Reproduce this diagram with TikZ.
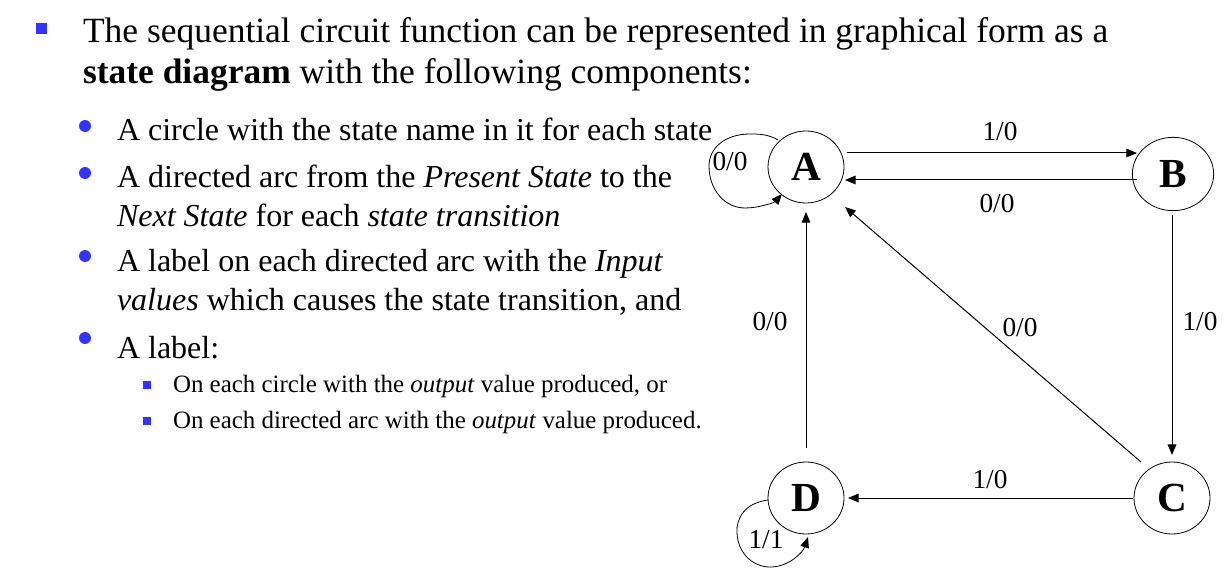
\documentclass[tikz,border=0pt]{standalone}
\usepackage{fontspec}
\setmainfont{Liberation Serif}
\usetikzlibrary{arrows.meta,calc,shapes.geometric}
\definecolor{bulblue}{HTML}{3333FF}
\begin{document}
\begin{tikzpicture}[x=0.75pt,y=-0.75pt,
  txt/.style={anchor=base west,inner sep=0pt,outer sep=0pt},
  lvlone/.style={txt,font=\fontsize{26.6pt}{30pt}\selectfont},
  lvltwo/.style={txt,font=\fontsize{24pt}{28pt}\selectfont},
  lvlthree/.style={txt,font=\fontsize{18.7pt}{22pt}\selectfont},
  sqbul/.style={fill=bulblue,draw=none,inner sep=0pt,minimum size=#1,rectangle},
  rdbul/.style={fill=bulblue,draw=none,inner sep=0pt,minimum size=9pt,circle},
  statenode/.style={draw,ellipse,line width=0.6pt,inner sep=0pt,minimum width=57pt,minimum height=54pt,font=\fontsize{31pt}{34pt}\selectfont\bfseries},
  lbl/.style={inner sep=0pt,font=\fontsize{20.5pt}{24pt}\selectfont},
  arr/.style={line width=0.75pt,-{Triangle[length=8pt,width=6.5pt]}},
]
\useasboundingbox (0,0) rectangle (1224,574);
% bullets
\node[sqbul=8.3pt] (b0) at (41.5,28.5) {};
\node[rdbul] (b1) at (85,126) {};
\node[rdbul] (b2) at (85,173) {};
\node[rdbul] (b3) at (85,256) {};
\node[rdbul] (b4) at (85,338) {};
\node[sqbul=5.6pt] (b5) at (147,385) {};
\node[sqbul=5.6pt] (b6) at (147,421) {};
% text
\node[lvlone] (t1) at (83,43) {The sequential circuit function can be represented in graphical form as a};
\node[lvlone] (t2) at (83,84) {\textbf{state diagram} with the following components:};
\node[lvltwo] (t3) at (117,141) {A circle with the state name in it for each state};
\node[lvltwo] (t4) at (117,187) {A directed arc from the \textit{Present State} to the};
\node[lvltwo] (t5) at (117,226) {\textit{Next State} for each \textit{state transition}};
\node[lvltwo] (t6) at (117,271) {A label on each directed arc with the \textit{Input}};
\node[lvltwo] (t7) at (117,310) {\textit{values} which causes the state transition, and};
\node[lvltwo] (t8) at (117,358) {A label:};
\node[lvlthree] (t9) at (173,392) {On each circle with the \textit{output} value produced, or};
\node[lvlthree] (t10) at (173,428) {On each directed arc with the \textit{output} value produced.};
% states
\node[statenode] (A) at (806,167) {A};
\node[statenode,minimum width=61pt,minimum height=55pt] (B) at (1173,174) {B};
\node[statenode] (C) at (1172,498) {C};
\node[statenode] (D) at (806,498) {D};
% transitions
\draw[arr] ($(A)+(41,-14)$) -- ($(B)+(-36,-21)$);
\draw[arr] ($(B)+(-36,6)$) -- ($(A)+(39,13)$);
\draw[arr] ($(B)+(-1,41)$) -- ($(C)+(0,-43)$);
\draw[arr] ($(C)+(-31,-36)$) -- ($(A)+(39,40)$);
\draw[arr] ($(C)+(-39,0)$) -- ($(D)+(42,0)$);
\draw[arr] ($(D)+(0,-50)$) -- ($(A)+(0,45)$);
% self loops
\draw[arr,line width=0.6pt] ($(A)+(-28,-27)$) .. controls ($(A)+(-38,-33)$) and ($(A)+(-48,-33)$) .. ($(A)+(-56,-33)$)
  .. controls ($(A)+(-81,-33)$) and ($(A)+(-97,-19)$) .. ($(A)+(-97,-1)$)
  .. controls ($(A)+(-97,23)$) and ($(A)+(-81,41)$) .. ($(A)+(-61,41)$)
  .. controls ($(A)+(-46,41)$) and ($(A)+(-31,35)$) .. ($(A)+(-24,27)$);
\draw[arr,line width=0.6pt] ($(D)+(-38,2)$) .. controls ($(D)+(-61,5)$) and ($(D)+(-70,20)$) .. ($(D)+(-69,35)$)
  .. controls ($(D)+(-68,57)$) and ($(D)+(-51,70)$) .. ($(D)+(-34,69)$)
  .. controls ($(D)+(-16,68)$) and ($(D)+(-3,54)$) .. ($(D)+(2,39)$);
% labels
\node[lbl] (l1) at (1000,132) {1/0};
\node[lbl] (l2) at (997,204) {0/0};
\node[lbl] (l3) at (1200,322) {1/0};
\node[lbl] (l4) at (1020,328) {0/0};
\node[lbl] (l5) at (770,322) {0/0};
\node[lbl] (l6) at (990,480) {1/0};
\node[lbl] (l7) at (730,162) {0/0};
\node[lbl] (l8) at (766,540) {1/1};
\end{tikzpicture}
\end{document}
